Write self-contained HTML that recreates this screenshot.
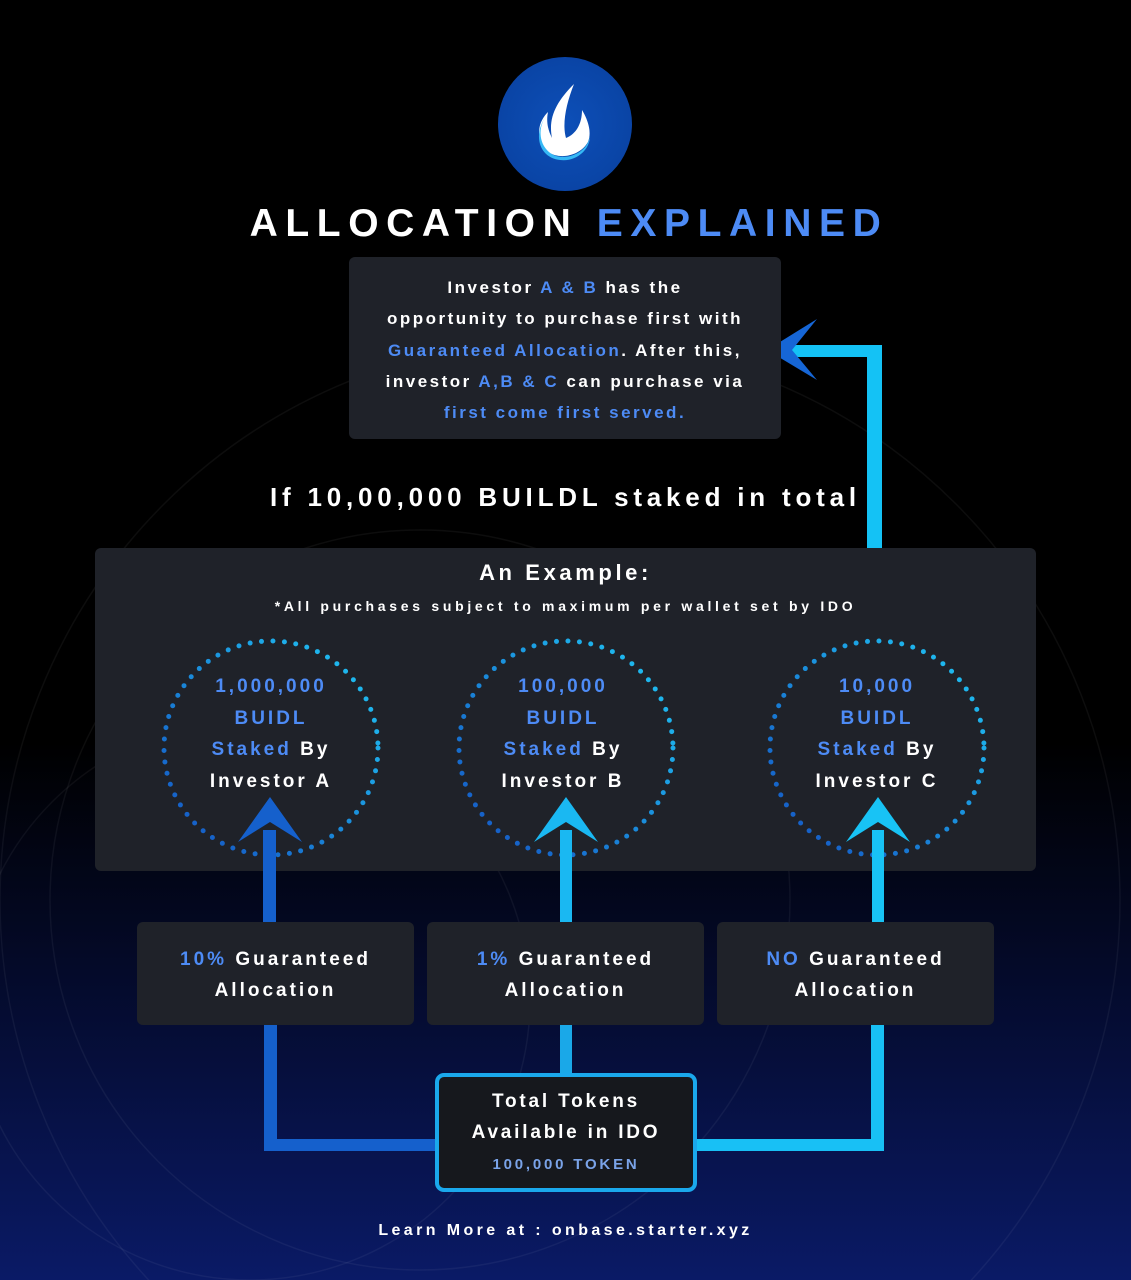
<!DOCTYPE html>
<html><head><meta charset="utf-8">
<style>
*{margin:0;padding:0;box-sizing:border-box}
html,body{width:1131px;height:1280px;overflow:hidden}
body{position:relative;font-family:"Liberation Sans","DejaVu Sans",sans-serif;font-weight:bold;color:#fff;
background:linear-gradient(180deg,#000 0%,#000 58%,#040a2a 76%,#0a1a66 100%);}
.abs{position:absolute}
.panel{position:absolute;background:#1f2229;border-radius:6px}
.c{text-align:center}
.b{color:#4d8bf5}
.t{letter-spacing:2.8px}
</style></head><body>
<svg class="abs" style="left:0;top:0;overflow:hidden" width="1131" height="1280">
<defs>
<radialGradient id="logo" cx="0.5" cy="0.5" r="0.5"><stop offset="0" stop-color="#0d4fb8"/><stop offset="1" stop-color="#0a44a5"/></radialGradient>
</defs>
<g fill="none" stroke="#ffffff" stroke-opacity="0.05" stroke-width="1.5">
<circle cx="560" cy="900" r="560"/>
<circle cx="420" cy="900" r="370"/>
<circle cx="250" cy="1000" r="280"/>
</g>
<circle cx="565" cy="124" r="67" fill="url(#logo)"/>
<path d="M574 84 C556 102 548 118 552 138 C548 130 546 122 548 112 C536 124 536 142 548 152 C560 160 580 156 588 142 C592 132 588 120 582 110 C582 124 576 134 566 138 C562 124 566 104 574 84Z" fill="#ffffff"/>
<path d="M546 116 C536 130 540 150 556 156 C572 160 588 150 590 136 C590 150 576 162 560 160 C540 158 532 136 546 116Z" fill="#35b8f5"/>
<path d="M882 548 V345 H790 V357 H867 V548Z" fill="#14c2f5"/>
<path d="M767 350 L817 319 L792 350 L817 380Z" fill="#1666d6"/>
<rect x="263" y="800" width="13" height="122" fill="#1560cc"/>
<rect x="560" y="800" width="12" height="122" fill="#1ab8f2"/>
<rect x="872" y="800" width="12" height="122" fill="#18c3f5"/>
<path d="M264 1025 V1151 H440 V1139 H277 V1025Z" fill="#1560cc"/>
<rect x="560" y="1025" width="12" height="50" fill="#1aa8e8"/>
<path d="M884 1025 V1151 H694 V1139 H871 V1025Z" fill="#18c0f5"/>
</svg>
<div class="abs c" style="left:0;width:1131px;top:202px;font-size:39px;letter-spacing:7.6px;padding-left:7px">ALLOCATION <span class="b">EXPLAINED</span></div>
<div class="panel" style="left:349px;top:257px;width:432px;height:182px"></div>
<div class="abs c" style="left:339px;top:272px;width:452px;font-size:17px;line-height:31.3px;letter-spacing:2.5px">Investor <span class="b">A &amp; B</span> has the<br>opportunity to purchase first with<br><span class="b">Guaranteed Allocation</span>. After this,<br>investor <span class="b">A,B &amp; C</span> can purchase via<br><span class="b">first come first served.</span></div>
<div class="abs" style="left:270px;top:482px;font-size:26px;letter-spacing:4.8px;white-space:nowrap">If 10,00,000 BUILDL staked in total</div>
<div class="panel" style="left:95px;top:548px;width:941px;height:323px"></div>
<div class="abs c" style="left:95px;width:941px;top:560px;font-size:22px;letter-spacing:3.6px">An Example:</div>
<div class="abs c" style="left:95px;width:941px;top:598px;font-size:14px;letter-spacing:3.7px">*All purchases subject to maximum per wallet set by IDO</div>
<svg class="abs" style="left:0;top:0" width="1131" height="1280">
<defs><linearGradient id="dg" x1="0" y1="1" x2="1" y2="0"><stop offset="0" stop-color="#1450c0"/><stop offset="1" stop-color="#20c8f5"/></linearGradient></defs>
<g fill="none" stroke="url(#dg)" stroke-width="5" stroke-linecap="round" stroke-dasharray="0 11.5">
<circle cx="271" cy="748" r="107"/>
<circle cx="566" cy="748" r="107"/>
<circle cx="877" cy="748" r="107"/>
</g>
<rect x="263" y="830" width="13" height="42" fill="#1560cc"/>
<rect x="560" y="830" width="12" height="42" fill="#1ab8f2"/>
<rect x="872" y="830" width="12" height="42" fill="#18c3f5"/>
<path d="M270 797 L238 842 L270 822 L302 842Z" fill="#1560cc"/>
<path d="M566 797 L534 842 L566 822 L598 842Z" fill="#1ab8f2"/>
<path d="M878 797 L846 842 L878 822 L910 842Z" fill="#18c3f5"/>
</svg>
<div class="abs c" style="left:166px;width:210px;top:671px;font-size:19px;line-height:31.5px;letter-spacing:3px"><span class="b">1,000,000<br>BUIDL<br>Staked</span> By<br>Investor A</div>
<div class="abs c" style="left:458px;width:210px;top:671px;font-size:19px;line-height:31.5px;letter-spacing:3px"><span class="b">100,000<br>BUIDL<br>Staked</span> By<br>Investor B</div>
<div class="abs c" style="left:772px;width:210px;top:671px;font-size:19px;line-height:31.5px;letter-spacing:3px"><span class="b">10,000<br>BUIDL<br>Staked</span> By<br>Investor C</div>
<div class="panel c" style="left:137px;top:922px;width:277px;height:103px;padding-top:22px;font-size:19px;line-height:31px;letter-spacing:3px"><span class="b">10%</span> Guaranteed<br>Allocation</div>
<div class="panel c" style="left:427px;top:922px;width:277px;height:103px;padding-top:22px;font-size:19px;line-height:31px;letter-spacing:3px"><span class="b">1%</span> Guaranteed<br>Allocation</div>
<div class="panel c" style="left:717px;top:922px;width:277px;height:103px;padding-top:22px;font-size:19px;line-height:31px;letter-spacing:3px"><span class="b">NO</span> Guaranteed<br>Allocation</div>
<div class="abs c" style="left:435px;top:1073px;width:262px;height:119px;border:4px solid #1aa8ec;border-radius:9px;background:#16181d;padding-top:9px;font-size:19px;line-height:31px;letter-spacing:2.8px">Total Tokens<br>Available in IDO<br><span style="color:#7aa3e8;font-size:15px">100,000 TOKEN</span></div>
<div class="abs c" style="left:0;width:1131px;top:1222px;font-size:16px;letter-spacing:3.4px">Learn More at : onbase.starter.xyz</div>
</body></html>
